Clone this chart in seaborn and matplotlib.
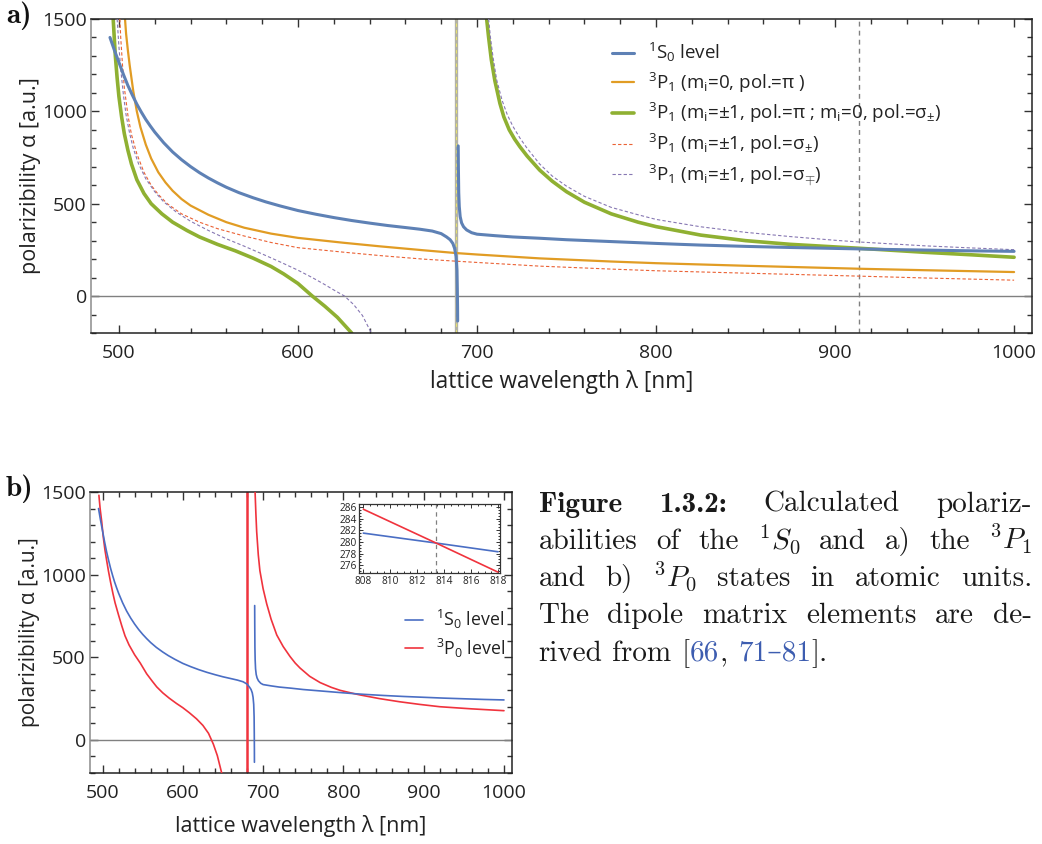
import matplotlib
matplotlib.use("Agg")
import matplotlib.pyplot as plt
import seaborn as sns
from matplotlib.ticker import MultipleLocator

# ---------------- data ----------------
# 1S0 level (shared by both panels)
s0_left_nm = [495, 497.5, 500, 502.5, 505, 507.5, 510, 512.5, 515, 517.5, 520, 525, 530, 535, 540,
              545, 550, 555, 560, 567, 575, 582, 590, 600, 610, 620, 630, 640, 650, 660, 668, 675,
              680, 683, 685, 686.5, 687.5, 688.3, 688.8, 689.0, 689.15, 689.2]
s0_left_a = [1400, 1330, 1265, 1200, 1140, 1088, 1039, 996, 956, 921, 888, 830, 780, 738, 701,
             668, 639, 613, 589, 560, 532, 510, 488, 463, 443, 425, 409, 395, 382, 371, 362, 352,
             338, 320, 305, 285, 258, 215, 140, 40, -60, -135]
s0_right_nm = [689.5, 689.6, 689.8, 690.1, 690.6, 691.4, 692.5, 694.2, 697, 700, 710, 720, 735,
               750, 775, 800, 813.4, 825, 850, 875, 900, 925, 950, 975, 1000]
s0_right_a = [813, 700, 560, 485, 430, 396, 375, 358, 343, 335, 327, 320, 313, 305, 295, 285,
              280, 276, 269, 263, 258, 253, 249, 245, 242]

# 3P1 (mi=0, pol=pi)
p1_pi0_nm = [503.4, 504, 505, 506, 508, 510, 512, 515, 518, 522, 526, 530, 535, 540, 550, 560,
             570, 585, 600, 625, 646, 670, 688, 700, 735, 775, 800, 850, 913, 950, 1000]
p1_pi0_a = [1500, 1420, 1330, 1250, 1110, 1000, 915, 820, 745, 670, 615, 570, 525, 490, 440, 400,
            370, 338, 315, 289, 269, 248, 233, 225, 204, 187, 178, 164, 148, 140, 130]

# 3P1 (mi=+-1, pol=pi ; mi=0, pol=sigma+-)
p1_mix_left_nm = [496.8, 497.5, 498, 499, 500, 501.5, 503, 505, 507, 510, 514, 518, 524, 530, 538,
                  545, 555, 565, 575, 585, 592, 600, 608, 615, 622, 630]
p1_mix_left_a = [1500, 1380, 1300, 1180, 1080, 970, 880, 790, 715, 630, 555, 500, 445, 400, 355,
                 320, 280, 245, 205, 160, 120, 68, 0, -55, -115, -200]
p1_mix_right_nm = [705.4, 706.5, 708, 710, 712.8, 715, 718, 721, 724, 728, 735, 742, 750, 760, 775,
                   790, 800, 825, 850, 875, 900, 913, 950, 975, 1000]
p1_mix_right_a = [1500, 1400, 1280, 1165, 1043, 970, 900, 850, 808, 758, 682, 622, 565, 508, 445,
                  400, 376, 330, 300, 280, 266, 259, 237, 224, 210]

# 3P1 (mi=+-1, pol=sigma+-)
p1_sp_nm = [500.5, 501, 502, 503, 505, 507, 510, 514, 518, 522, 527, 535, 545, 555, 570, 585, 600,
            625, 646, 670, 688, 700, 735, 775, 800, 850, 913, 950, 1000]
p1_sp_a = [1500, 1400, 1250, 1130, 980, 875, 770, 670, 600, 550, 500, 445, 400, 365, 325, 290, 262,
           238, 219, 200, 189, 182, 162, 146, 137, 124, 108, 98, 86]

# 3P1 (mi=+-1, pol=sigma-+)
p1_sm_left_nm = [499, 500, 501, 502.5, 504, 506, 508, 511, 515, 520, 525, 532, 540, 550, 560, 570,
                 580, 590, 600, 608, 615, 620, 626, 631, 636, 641]
p1_sm_left_a = [1500, 1350, 1230, 1090, 980, 880, 800, 715, 635, 565, 510, 455, 405, 355, 310, 270,
                228, 185, 140, 100, 62, 33, 0, -45, -105, -200]
p1_sm_right_nm = [706.5, 707.5, 709, 711, 714, 717, 720, 724, 728, 735, 742, 750, 760, 775, 790,
                  800, 825, 850, 875, 900, 913, 950, 975, 1000]
p1_sm_right_a = [1500, 1400, 1290, 1170, 1060, 980, 920, 855, 800, 715, 650, 595, 540, 480, 440,
                 415, 375, 345, 322, 302, 293, 272, 261, 251]

# 3P0 level (panel b)
p0_left_nm = [495.5, 497, 499, 501, 503, 505, 507.3, 510, 513, 515.6, 520, 524, 528, 533, 540, 547,
              555, 562, 567.5, 575, 583, 592, 600, 608, 617, 625, 632, 638, 643, 648.4]
p0_left_a = [1480, 1400, 1320, 1225, 1150, 1090, 1024, 955, 885, 830, 755, 690, 630, 575, 515, 465,
             400, 355, 321, 285, 253, 221, 195, 165, 128, 88, 40, -25, -95, -200]
p0_right_nm = [690.0, 691, 692, 694, 696, 700, 704.5, 710, 717, 725, 733.5, 740, 746, 758, 771,
               785, 796, 813.4, 821, 845, 870, 895, 920, 960, 1000]
p0_right_a = [1500, 1370, 1260, 1120, 1024, 915, 823, 730, 635, 565, 505, 465, 435, 385, 347, 318,
              300, 280, 272, 250, 231, 215, 201, 188, 177]

# inset (zoom around the magic wavelength)
inset_nm = [808, 813.4, 818]
inset_s0 = [281.5, 279.8, 278.3]
inset_p0 = [285.6, 279.8, 274.8]

pole_a_nm = 688.1     # vertical asymptote drawn in panel a
pole_b_nm = 679.6     # 3P0 asymptote drawn in panel b
magic_a_nm = 913.5
magic_b_nm = 813.4

# ---------------- style ----------------
sns.set_theme(style="ticks")
plt.rcParams["font.family"] = ["Open Sans", "DejaVu Sans"]
plt.rcParams["mathtext.fontset"] = "custom"
plt.rcParams["mathtext.rm"] = "Open Sans"
plt.rcParams["mathtext.it"] = "Open Sans:italic"
plt.rcParams["mathtext.bf"] = "Open Sans:bold"
plt.rcParams["mathtext.sf"] = "Open Sans"

C_BLUE = "#5E81B5"
C_ORANGE = "#E19C24"
C_GREEN = "#8FB032"
C_RED = "#EB6235"
C_PURPLE = "#8778B3"
B_BLUE = "#4a6ec4"
B_RED = "#f0333d"
TXT = "#222222"

fig = plt.figure(figsize=(10.42, 8.44), dpi=100)
W, H = 1042, 844


def ax_px(l, t, r, b):
    return [l / W, 1 - b / H, (r - l) / W, (b - t) / H]


def style_axes(ax, labelsize):
    ax.set_xlim(484.4, 1010)
    ax.set_ylim(-200, 1500)
    ax.xaxis.set_major_locator(MultipleLocator(100))
    ax.xaxis.set_minor_locator(MultipleLocator(20))
    ax.yaxis.set_major_locator(MultipleLocator(500))
    ax.yaxis.set_minor_locator(MultipleLocator(100))
    ax.tick_params(which="both", direction="in", top=True, right=True, colors="#333333",
                   labelcolor=TXT, width=1.0)
    ax.tick_params(which="major", length=6, labelsize=labelsize)
    ax.tick_params(axis="x", which="major", pad=8)
    ax.tick_params(axis="y", which="major", pad=3)
    ax.tick_params(which="minor", length=3.5)
    for s in ax.spines.values():
        s.set_linewidth(1.1)
        s.set_color("#222222")
    ax.spines["left"].set_color("#8c8c8c")
    ax.axhline(0, color="#808080", lw=1.0, zorder=1)


def line(ax, x, y, color, lw, ls="-", label=None, z=2):
    sns.lineplot(x=x, y=y, ax=ax, color=color, lw=lw, ls=ls, sort=False, estimator=None,
                 label=label if label else "_nolegend_", zorder=z, legend=False)


# ---------------- panel a ----------------
ax = fig.add_axes(ax_px(91, 19, 1032, 333))
style_axes(ax, 14)
ax.axvline(pole_a_nm, color="#b2b2a6", lw=2.4, zorder=1.5)
ax.axvline(pole_a_nm, color="#e6e070", lw=0.8, ls=(0, (3, 3)), zorder=1.6)
ax.axvline(magic_a_nm, color="#808080", lw=1.0, ls=(0, (3.5, 3)), zorder=1.5)

LAB_S0 = r"$^{1}\mathrm{S}_{0}$ level"
LAB_PI0 = r"$^{3}\mathrm{P}_{1}$ (m$_\mathrm{i}$=0, pol.=$\mathrm{\pi}$ )"
LAB_MIX = r"$^{3}\mathrm{P}_{1}$ (m$_\mathrm{i}$=$\pm$1, pol.=$\mathrm{\pi}$ ; m$_\mathrm{i}$=0, pol.=$\mathrm{\sigma}_{\pm}$)"
LAB_SP = r"$^{3}\mathrm{P}_{1}$ (m$_\mathrm{i}$=$\pm$1, pol.=$\mathrm{\sigma}_{\pm}$)"
LAB_SM = r"$^{3}\mathrm{P}_{1}$ (m$_\mathrm{i}$=$\pm$1, pol.=$\mathrm{\sigma}_{\mp}$)"

line(ax, p1_pi0_nm, p1_pi0_a, C_ORANGE, 1.6, label=LAB_PI0)
line(ax, p1_mix_left_nm, p1_mix_left_a, C_GREEN, 2.6, label=LAB_MIX)
line(ax, p1_mix_right_nm, p1_mix_right_a, C_GREEN, 2.6)
line(ax, p1_sp_nm, p1_sp_a, C_RED, 0.8, ls=(0, (3, 2)), label=LAB_SP, z=3)
line(ax, p1_sm_left_nm, p1_sm_left_a, C_PURPLE, 0.8, ls=(0, (3, 2)), label=LAB_SM, z=3)
line(ax, p1_sm_right_nm, p1_sm_right_a, C_PURPLE, 0.8, ls=(0, (3, 2)), z=3)
line(ax, s0_left_nm, s0_left_a, C_BLUE, 2.2, label=LAB_S0, z=4)
line(ax, s0_right_nm, s0_right_a, C_BLUE, 2.2, z=4)

h, l = ax.get_legend_handles_labels()
order = [l.index(s) for s in [LAB_S0, LAB_PI0, LAB_MIX, LAB_SP, LAB_SM]]
leg = ax.legend([h[i] for i in order], [l[i] for i in order], loc="upper left",
                bbox_to_anchor=(612 / W, 1 - 41 / H), bbox_transform=fig.transFigure,
                frameon=False, fontsize=13.5, handlelength=1.15, handletextpad=0.75,
                labelspacing=0.35, borderpad=0, borderaxespad=0)
for t in leg.get_texts():
    t.set_color(TXT)

ax.set_xlabel("lattice wavelength λ [nm]", fontsize=16.3, color=TXT, labelpad=6)
ax.set_ylabel("polarizibility α [a.u.]", fontsize=15.5, color=TXT, labelpad=1)

# ---------------- panel b ----------------
bx = fig.add_axes(ax_px(90, 492, 512, 773))
style_axes(bx, 14)
bx.axvline(pole_b_nm, color=B_RED, lw=1.8, zorder=2)
LAB_P0 = r"$^{3}\mathrm{P}_{0}$ level"
line(bx, p0_left_nm, p0_left_a, B_RED, 1.2, label=LAB_P0, z=3)
line(bx, p0_right_nm, p0_right_a, B_RED, 1.2, z=3)
line(bx, s0_left_nm, s0_left_a, B_BLUE, 1.2, label=LAB_S0, z=4)
line(bx, s0_right_nm, s0_right_a, B_BLUE, 1.2, z=4)
h, l = bx.get_legend_handles_labels()
order = [l.index(LAB_S0), l.index(LAB_P0)]
leg = bx.legend([h[i] for i in order], [l[i] for i in order], loc="upper left",
                bbox_to_anchor=(405 / W, 1 - 608 / H), bbox_transform=fig.transFigure,
                frameon=False, fontsize=12.8, handlelength=1.0, handletextpad=0.75,
                labelspacing=0.3, borderpad=0, borderaxespad=0)
for t in leg.get_texts():
    t.set_color(TXT)
bx.set_xlabel("lattice wavelength λ [nm]", fontsize=15.5, color=TXT, labelpad=9)
bx.set_ylabel("polarizibility α [a.u.]", fontsize=15, color=TXT, labelpad=1)

# ---------------- inset ----------------
ix = fig.add_axes(ax_px(359.3, 504, 500, 573.3))
sns.lineplot(x=inset_nm, y=inset_s0, ax=ix, color=B_BLUE, lw=1.2, estimator=None, sort=False)
sns.lineplot(x=inset_nm, y=inset_p0, ax=ix, color=B_RED, lw=1.2, estimator=None, sort=False)
ix.axvline(magic_b_nm, color="#808080", lw=0.9, ls=(0, (3.5, 3)))
ix.set_xlim(807.7, 818.15)
ix.set_ylim(274.6, 286.5)
ix.xaxis.set_major_locator(MultipleLocator(2))
ix.xaxis.set_minor_locator(MultipleLocator(0.5))
ix.yaxis.set_major_locator(MultipleLocator(2))
ix.yaxis.set_minor_locator(MultipleLocator(0.5))
ix.tick_params(which="both", direction="in", top=True, right=True, colors="#333333",
               labelcolor=TXT, width=0.7, labelsize=7.3, pad=2)
ix.tick_params(which="major", length=3)
ix.tick_params(which="minor", length=1.5)
for s in ix.spines.values():
    s.set_linewidth(0.9)
    s.set_color("#333333")
ix.set_xlabel("")
ix.set_ylabel("")

# ---------------- panel labels ----------------
fig.text(6 / W, 1 - 23 / H, "a)", fontsize=21, family=["cmb10", "DejaVu Serif"], va="baseline", color="#111111")
fig.text(6 / W, 1 - 496 / H, "b)", fontsize=21, family=["cmb10", "DejaVu Serif"], va="baseline", color="#111111")

# ---------------- caption (justified) ----------------
renderer = fig.canvas.get_renderer()
CAP_FS = 21
REG = ["cmr10", "DejaVu Serif"]
BOLD = ["cmb10", "DejaVu Serif"]
LINK = "#3d5db0"
x0, x1 = 538.5, 1032.0
baselines = [511.7, 548.7, 586.0, 623.3, 660.6]
cap_lines = [
    [("Figure", BOLD), ("1.3.2:", BOLD), ("Calculated", REG), ("polariz-", REG)],
    [("abilities", REG), ("of", REG), ("the", REG), (r"$^1S_0$", REG), ("and", REG), ("a)", REG),
     ("the", REG), (r"$^3P_1$", REG)],
    [("and", REG), ("b)", REG), (r"$^3P_0$", REG), ("states", REG), ("in", REG), ("atomic", REG),
     ("units.", REG)],
    [("The", REG), ("dipole", REG), ("matrix", REG), ("elements", REG), ("are", REG), ("de-", REG)],
]


def make(s, fam, color="#1a1a1a"):
    return fig.text(0, 0, s, fontsize=CAP_FS, family=fam, math_fontfamily="cm",
                    va="baseline", ha="left", color=color)


for words, yb in zip(cap_lines, baselines):
    ts = [make(w, f) for w, f in words]
    ws = [t.get_window_extent(renderer).width for t in ts]
    gap = (x1 - x0 - sum(ws)) / (len(ts) - 1)
    x = x0
    for t, w in zip(ts, ws):
        t.set_position((x / W, 1 - yb / H))
        x += w + gap

last = [("rived", "#1a1a1a", 1), ("from", "#1a1a1a", 1), ("[", "#1a1a1a", 0), ("66", LINK, 0),
        (",", "#1a1a1a", 1), ("71–81", LINK, 0), ("].", "#1a1a1a", 0)]
space = 10
x = x0
for s, c, sp in last:
    t = make(s, REG, c)
    w = t.get_window_extent(renderer).width
    t.set_position((x / W, 1 - baselines[4] / H))
    x += w + (space if sp else 0.5)

fig.savefig("out.png", dpi=100)
